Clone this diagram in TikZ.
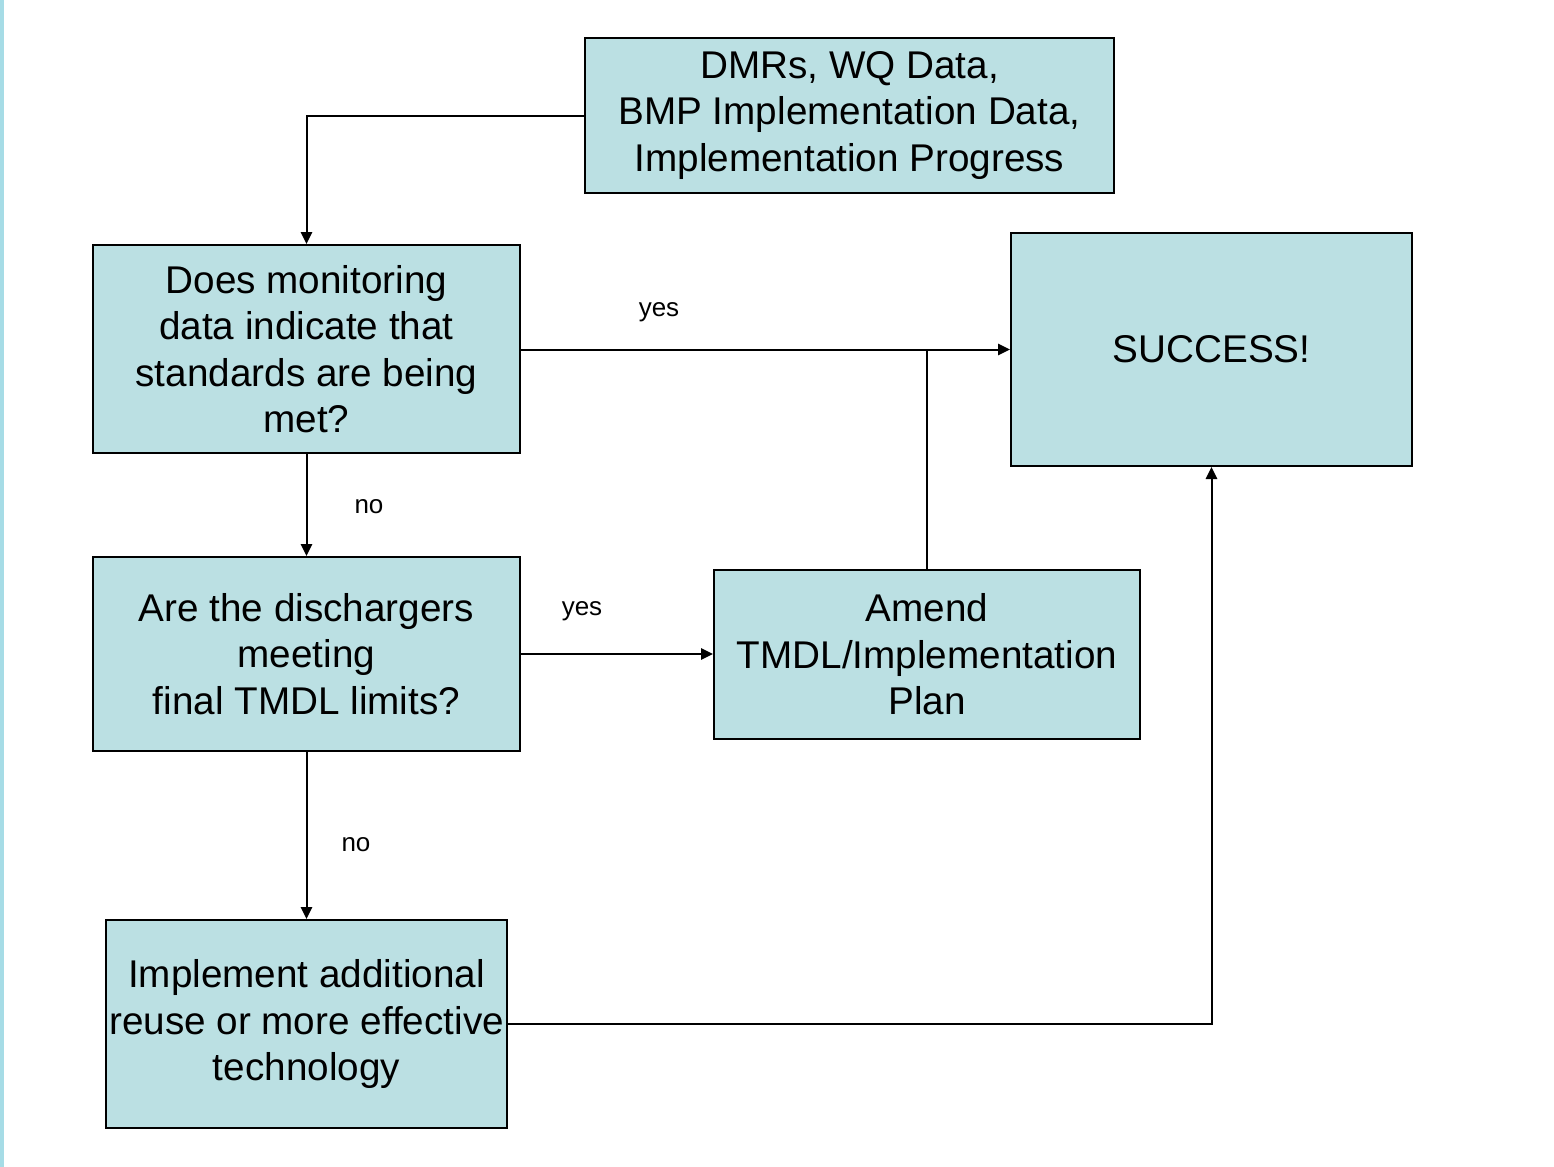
\documentclass[tikz,border=0pt]{standalone}
\usepackage{fontspec}
\setmainfont{Liberation Sans}
\usetikzlibrary{arrows.meta}
\definecolor{boxfill}{HTML}{BBE0E3}
\definecolor{edgecyan}{HTML}{A6DCE6}
\tikzset{
  px/.style={x=0.75pt,y=-0.75pt},
  flowbox/.style={draw=black,line width=1.5pt,fill=boxfill,inner sep=0pt,align=center,
    font=\fontsize{29pt}{34.8pt}\selectfont},
  conn/.style={line width=1.5pt,draw=black},
  arr/.style={conn,-{Triangle[length=9pt,width=8.5pt]}},
  lbl/.style={font=\fontsize{19.5pt}{22pt}\selectfont,inner sep=0pt}
}
\begin{document}
\begin{tikzpicture}[px]
\useasboundingbox (0,0) rectangle (1554,1167);
\fill[white] (0,0) rectangle (1554,1167);
\fill[edgecyan] (0,0) rectangle (3.5,1167);
\node[flowbox,minimum width=529.5*0.75pt,minimum height=155*0.75pt] (top) at (849.5,115.5)
  {DMRs, WQ Data,\\BMP Implementation Data,\\Implementation Progress};
\node[flowbox,minimum width=427*0.75pt,minimum height=208*0.75pt] (q1) at (306.5,349)
  {Does monitoring\\data indicate that\\standards are being\\met?};
\node[flowbox,minimum width=401*0.75pt,minimum height=233*0.75pt] (succ) at (1211.5,349.5)
  {SUCCESS!};
\node[flowbox,minimum width=427*0.75pt,minimum height=194*0.75pt] (q2) at (306.5,654)
  {Are the dischargers\\meeting\\final TMDL limits?};
\node[flowbox,minimum width=426*0.75pt,minimum height=169*0.75pt] (amend) at (927,654.5)
  {Amend\\TMDL/Implementation\\Plan};
\node[flowbox,minimum width=401*0.75pt,minimum height=208*0.75pt] (impl) at (306.5,1024)
  {Implement additional\\reuse or more effective\\technology};
\coordinate (join) at (amend.north |- succ.west);
\draw[arr] (top.west) -| (q1.north);
\draw[arr] (q1.east |- succ.west) -- (succ.west);
\draw[conn] (amend.north) -- (join);
\draw[arr] (q1.south) -- (q2.north);
\draw[arr] (q2.east) -- (q2.east -| amend.west);
\draw[arr] (q2.south) -- (q2.south |- impl.north);
\draw[arr] (impl.east) -| (succ.south);
\node[lbl] (l1) at (659,312) {yes};
\node[lbl] (l2) at (369,507) {no};
\node[lbl] (l3) at (582,611) {yes};
\node[lbl] (l4) at (356,845) {no};
\end{tikzpicture}
\end{document}
